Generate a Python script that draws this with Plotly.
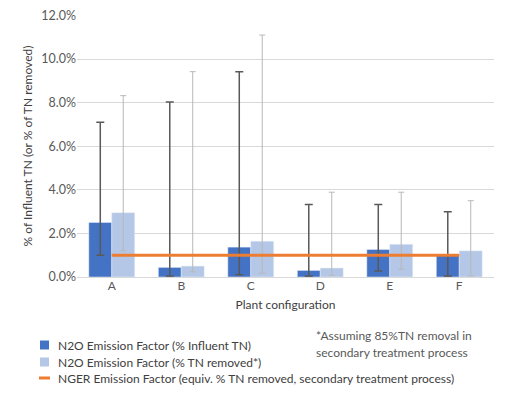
import plotly.graph_objects as go

categories = ["A", "B", "C", "D", "E", "F"]
influent_ef = [2.5, 0.44, 1.37, 0.30, 1.26, 0.99]
influent_hi = [7.1, 8.03, 9.42, 3.33, 3.33, 2.99]
influent_lo = [1.0, 0.05, 0.10, 0.05, 0.27, 0.05]
removed_ef = [2.95, 0.50, 1.64, 0.41, 1.50, 1.20]
removed_hi = [8.32, 9.42, 11.1, 3.89, 3.89, 3.50]
removed_lo = [1.2, 0.24, 0.17, 0.08, 0.35, 0.05]
nger_ef = [1.0, 1.0, 1.0, 1.0, 1.0, 1.0]
y_ticks = [0, 2, 4, 6, 8, 10, 12]

series_names = [
    "N2O Emission Factor (% Influent TN)",
    "N2O Emission Factor (% TN removed*)",
    "NGER Emission Factor (equiv. % TN removed, secondary treatment process)",
]
series_colors = ["#4472C4", "#B4C7E7", "#ED7D31"]

FONT = "Lato"
OFF = 8  # page body margin
W, H = 507, 398
# plot area in page pixels: x 77..494, y 15..277
ML = 77 - OFF
MT = 15 - OFF
MR = W - (494 - OFF)
MB = H - (277 - OFF)
PW, PH = W - ML - MR, H - MT - MB


def px(x):
    return (x - OFF - ML) / PW


def py(y):
    return (H - MB - (y - OFF)) / PH


fig = go.Figure()
fig.add_trace(go.Bar(
    x=categories, y=influent_ef, name=series_names[0],
    marker=dict(color=series_colors[0]),
    error_y=dict(type="data", symmetric=False,
                 array=[h - v for h, v in zip(influent_hi, influent_ef)],
                 arrayminus=[v - l for l, v in zip(influent_lo, influent_ef)],
                 color="#595959", thickness=1.5, width=4),
))
fig.add_trace(go.Bar(
    x=categories, y=removed_ef, name=series_names[1],
    marker=dict(color=series_colors[1]),
    error_y=dict(type="data", symmetric=False,
                 array=[h - v for h, v in zip(removed_hi, removed_ef)],
                 arrayminus=[v - l for l, v in zip(removed_lo, removed_ef)],
                 color="#b8b8b8", thickness=1, width=3),
))
fig.add_trace(go.Scatter(
    x=categories, y=nger_ef, mode="lines", name=series_names[2],
    line=dict(color=series_colors[2], width=3),
))

# manual legend (compact, like the original)
shapes = []
annotations = []
rows_y = [345, 362, 378]
for i, (name, col, ry) in enumerate(zip(series_names, series_colors, rows_y)):
    if i < 2:
        shapes.append(dict(type="rect", xref="paper", yref="paper",
                           x0=px(40), x1=px(49), y0=py(ry + 4.5), y1=py(ry - 4.5),
                           fillcolor=col, line=dict(width=0)))
    else:
        shapes.append(dict(type="line", xref="paper", yref="paper",
                           x0=px(39), x1=px(50), y0=py(ry), y1=py(ry),
                           line=dict(color=col, width=3)))
    annotations.append(dict(text=name, xref="paper", yref="paper",
                            x=px(56), y=py(ry), xanchor="left", yanchor="middle",
                            showarrow=False,
                            font=dict(family=FONT, size=12, color="#404040")))

for txt, ry in zip(["*Assuming 85%TN removal in", "secondary treatment process"], [335, 352]):
    annotations.append(dict(text=txt, xref="paper", yref="paper",
                            x=px(314), y=py(ry), xanchor="left", yanchor="middle",
                            showarrow=False,
                            font=dict(family=FONT, size=12, color="#595959")))

fig.update_layout(
    width=W, height=H,
    margin=dict(l=ML, r=MR, t=MT, b=MB, autoexpand=False),
    paper_bgcolor="white", plot_bgcolor="white",
    font=dict(family=FONT, size=12, color="#595959"),
    barmode="group", bargap=0.34, bargroupgap=0,
    showlegend=False,
    xaxis=dict(title=dict(text="Plant configuration", font=dict(size=12, color="#404040"), standoff=8),
               showgrid=False, ticks="", showline=False,
               tickfont=dict(size=12, color="#595959")),
    yaxis=dict(title=dict(text="% of Influent TN (or % of TN removed)", font=dict(size=12, color="#404040"), standoff=6),
               range=[0, 12.02], tickvals=y_ticks,
               ticktext=[f"{v:.1f}%" for v in y_ticks],
               ticklabeloverflow="allow",
               showgrid=True, gridcolor="#d9d9d9", gridwidth=1,
               zeroline=True, zerolinecolor="#d9d9d9", zerolinewidth=1,
               ticks="", showline=False,
               tickfont=dict(size=12.5, color="#595959")),
    shapes=shapes,
    annotations=annotations,
)

fig.write_html("out.html")
